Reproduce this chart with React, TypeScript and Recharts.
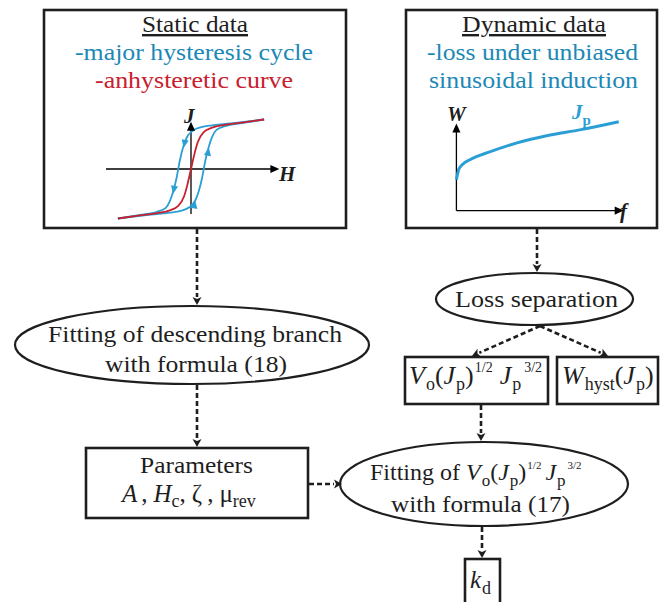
import { Line, LineChart, ReferenceDot, ReferenceLine, XAxis, YAxis } from "recharts"

// static data: major hysteresis loop + anhysteretic curve (H, J normalised)
const anhystH = [-0.86, -0.6, -0.4, -0.25, -0.15, -0.08, -0.04, 0, 0.04, 0.08, 0.15, 0.25, 0.4, 0.6, 0.86]
const anhystJ = [-1.1, -1.03, -0.98, -0.92, -0.82, -0.6, -0.33, 0, 0.33, 0.6, 0.82, 0.92, 0.98, 1.03, 1.1]
const descH = [-0.86, -0.6, -0.4, -0.3, -0.25, -0.21, -0.17, -0.15, -0.13, -0.09, -0.05, 0.02, 0.12, 0.25, 0.4, 0.6, 0.86]
const descJ = [-1.1, -1.02, -0.95, -0.87, -0.72, -0.5, -0.2, 0, 0.2, 0.5, 0.7, 0.85, 0.93, 0.97, 1.0, 1.04, 1.1]
const ascH = [-0.86, -0.6, -0.4, -0.25, -0.12, -0.02, 0.05, 0.09, 0.13, 0.15, 0.17, 0.21, 0.25, 0.3, 0.4, 0.6, 0.86]
const ascJ = [-1.1, -1.04, -1.0, -0.97, -0.93, -0.85, -0.7, -0.5, -0.2, 0, 0.2, 0.5, 0.72, 0.87, 0.95, 1.02, 1.1]

// dynamic data: loss W vs frequency f at peak induction Jp (normalised)
const freq = [0, 0.014, 0.035, 0.085, 0.207, 0.37, 0.55, 0.76, 0.99]
const loss = [0.35, 0.466, 0.52, 0.58, 0.67, 0.77, 0.85, 0.92, 1.01]

const anhyst = anhystH.map((h, i) => ({ h, j: anhystJ[i] }))
const descending = descH.map((h, i) => ({ h, j: descJ[i] }))
const ascending = ascH.map((h, i) => ({ h, j: ascJ[i] }))
const lossCurve = freq.map((f, i) => ({ f, w: loss[i] }))

const BLUE = "#2a9fd6"
const BLUE_TEXT = "#1c88b6"
const RED = "#c8202e"
const INK = "#1e1e1e"
const FONT = "Liberation Serif"

const tri = (angle: number, size = 8, color = "#000") => (p: any) => {
  const a = (angle * Math.PI) / 180
  const c = Math.cos(a)
  const s = Math.sin(a)
  const bx = p.cx - size * c
  const by = p.cy - size * s
  const w = size * 0.45
  return (
    <path
      d={`M${p.cx},${p.cy} L${bx + w * s},${by - w * c} L${bx - w * s},${by + w * c} Z`}
      fill={color}
    />
  )
}

function Arrow({ x1, y1, x2, y2 }: { x1: number; y1: number; x2: number; y2: number }) {
  const a = Math.atan2(y2 - y1, x2 - x1)
  const len = 8
  const bx = x2 - len * Math.cos(a)
  const by = y2 - len * Math.sin(a)
  const w = 4.5
  return (
    <g>
      <line x1={x1} y1={y1} x2={bx} y2={by} stroke={INK} strokeWidth={2.6} strokeDasharray="5 3" />
      <path
        d={`M${x2},${y2} L${bx + w * Math.sin(a)},${by - w * Math.cos(a)} L${bx + 2 * Math.cos(a)},${by + 2 * Math.sin(a)} L${bx - w * Math.sin(a)},${by + w * Math.cos(a)} Z`}
        fill={INK}
      />
    </g>
  )
}

// single line of text stretched to the width measured on the original
function Fit({ x, y, w, children, fill = INK, size = 24, underline = false }: any) {
  return (
    <text
      x={x}
      y={y}
      fontSize={size}
      fontFamily={FONT}
      fill={fill}
      textLength={w}
      lengthAdjust="spacingAndGlyphs"
      style={underline ? { textDecoration: "underline" } : undefined}
    >
      {children}
    </text>
  )
}

function HysteresisPlot() {
  return (
    <div style={{ position: "absolute", left: 89, top: 106 }}>
      <LineChart width={204} height={126} margin={{ top: 0, right: 0, bottom: 0, left: 0 }}>
        <XAxis type="number" dataKey="h" domain={[-1.2, 1.2]} hide allowDataOverflow />
        <YAxis type="number" dataKey="j" domain={[-1.4, 1.4]} hide allowDataOverflow />
        <ReferenceLine segment={[{ x: -1.0, y: 0 }, { x: 1.0, y: 0 }]} stroke="#000" strokeWidth={1.3} />
        <ReferenceLine segment={[{ x: 0, y: -1.0 }, { x: 0, y: 0.98 }]} stroke="#000" strokeWidth={1.3} />
        <ReferenceDot x={1.04} y={0} r={0} shape={tri(0, 9)} />
        <ReferenceDot x={0} y={1.05} r={0} shape={tri(-90, 9)} />
        <Line data={descending} dataKey="j" type="monotone" stroke={BLUE} strokeWidth={1.8} dot={false} isAnimationActive={false} />
        <Line data={ascending} dataKey="j" type="monotone" stroke={BLUE} strokeWidth={1.8} dot={false} isAnimationActive={false} />
        <Line data={anhyst} dataKey="j" type="monotone" stroke={RED} strokeWidth={1.8} dot={false} isAnimationActive={false} />
        <ReferenceDot x={-0.085} y={0.47} r={0} shape={tri(100, 8, BLUE)} />
        <ReferenceDot x={-0.21} y={-0.55} r={0} shape={tri(100, 8, BLUE)} />
        <ReferenceDot x={0.21} y={0.47} r={0} shape={tri(-80, 8, BLUE)} />
        <ReferenceDot x={0.05} y={-0.7} r={0} shape={tri(-80, 8, BLUE)} />
      </LineChart>
    </div>
  )
}

function LossPlot() {
  return (
    <div style={{ position: "absolute", left: 439.6, top: 105.4 }}>
      <LineChart width={196.8} height={114.4} margin={{ top: 0, right: 0, bottom: 0, left: 0 }}>
        <XAxis type="number" dataKey="f" domain={[-0.1, 1.1]} hide allowDataOverflow />
        <YAxis type="number" dataKey="w" domain={[-0.1, 1.2]} hide allowDataOverflow />
        <ReferenceLine segment={[{ x: 0, y: 0 }, { x: 0.98, y: 0 }]} stroke="#000" strokeWidth={1.3} />
        <ReferenceLine segment={[{ x: 0, y: 0 }, { x: 0, y: 0.92 }]} stroke="#000" strokeWidth={1.3} />
        <ReferenceDot x={1.02} y={0} r={0} shape={tri(0, 9)} />
        <ReferenceDot x={0} y={0.99} r={0} shape={tri(-90, 9)} />
        <Line data={lossCurve} dataKey="w" type="monotone" stroke={BLUE} strokeWidth={3} dot={false} isAnimationActive={false} />
      </LineChart>
    </div>
  )
}

function Diagram() {
  const t = { fontFamily: FONT, fill: INK }
  return (
    <svg width={670} height={602} style={{ position: "absolute", left: 0, top: 0 }}>
      <rect width={670} height={602} fill="#fff" />

      {/* input boxes */}
      <rect x={44} y={10} width={302} height={218} fill="none" stroke={INK} strokeWidth={2.6} />
      <rect x={406} y={10} width={251} height={218} fill="none" stroke={INK} strokeWidth={2.6} />

      <Fit x={142} y={32} w={106} underline>Static data</Fit>
      <Fit x={75} y={60} w={238} fill={BLUE_TEXT}>-major hysteresis cycle</Fit>
      <Fit x={95} y={88} w={198} fill={RED}>-anhysteretic curve</Fit>

      <Fit x={462} y={32} w={144} underline>Dynamic data</Fit>
      <Fit x={427} y={60} w={211} fill={BLUE_TEXT}>-loss under unbiased</Fit>
      <Fit x={429} y={88} w={209} fill={BLUE_TEXT}>sinusoidal induction</Fit>

      {/* mini plot axis labels */}
      <text x={184} y={123} fontSize={21} fontStyle="italic" fontWeight="bold" {...t}>J</text>
      <text x={279} y={181} fontSize={21} fontStyle="italic" fontWeight="bold" {...t}>H</text>
      <text x={447} y={121} fontSize={21} fontStyle="italic" fontWeight="bold" {...t}>W</text>
      <text x={620} y={218} fontSize={21} fontStyle="italic" fontWeight="bold" {...t}>f</text>
      <text x={572} y={119} fontSize={21} fontStyle="italic" fontWeight="bold" fontFamily={FONT} fill={BLUE}>
        J<tspan fontSize={15} fontStyle="normal" y={125}>p</tspan>
      </text>

      {/* left branch */}
      <Arrow x1={197} y1={229} x2={197} y2={305} />
      <ellipse cx={192} cy={345} rx={177} ry={39} fill="none" stroke={INK} strokeWidth={2.2} />
      <Fit x={48} y={342} w={294}>Fitting of descending branch</Fit>
      <Fit x={105} y={372} w={182}>with formula (18)</Fit>
      <Arrow x1={197} y1={385} x2={197} y2={447} />

      <rect x={86} y={448} width={222} height={70} fill="none" stroke={INK} strokeWidth={2.6} />
      <Fit x={140} y={473} w={113}>Parameters</Fit>
      <text x={122} y={502} fontSize={25} {...t}>
        <tspan fontStyle="italic">A</tspan>
        <tspan dx={4}>,</tspan>
        <tspan dx={6} fontStyle="italic">H</tspan>
        <tspan y={507} fontSize={18}>c</tspan>
        <tspan y={502}>,</tspan>
        <tspan dx={6}>ζ</tspan>
        <tspan dx={5}>,</tspan>
        <tspan dx={6}>μ</tspan>
        <tspan y={507} fontSize={18}>rev</tspan>
      </text>
      <Arrow x1={309} y1={484} x2={342} y2={484} />

      {/* right branch */}
      <Arrow x1={537} y1={229} x2={537} y2={272} />
      <ellipse cx={534.5} cy={299} rx={98.5} ry={26} fill="none" stroke={INK} strokeWidth={2.2} />
      <Fit x={455} y={307} w={163}>Loss separation</Fit>
      <Arrow x1={540} y1={326} x2={472} y2={356} />
      <Arrow x1={540} y1={326} x2={608} y2={356} />

      <rect x={405} y={357} width={143} height={47} fill="none" stroke={INK} strokeWidth={2.6} />
      <text x={409} y={384} fontSize={26} {...t}>
        <tspan fontStyle="italic">V</tspan>
        <tspan dx={1} y={390} fontSize={18}>o</tspan>
        <tspan y={384}>(</tspan>
        <tspan fontStyle="italic">J</tspan>
        <tspan dx={1} y={390} fontSize={18}>p</tspan>
        <tspan y={384}>)</tspan>
        <tspan dx={1} y={372} fontSize={14}>1/2</tspan>
        <tspan dx={7} y={384} fontStyle="italic">J</tspan>
        <tspan dx={1} y={390} fontSize={18}>p</tspan>
        <tspan dx={3} y={372} fontSize={14}>3/2</tspan>
      </text>

      <rect x={557} y={357} width={101} height={47} fill="none" stroke={INK} strokeWidth={2.6} />
      <text x={562} y={384} fontSize={26} {...t}>
        <tspan fontStyle="italic">W</tspan>
        <tspan dx={1} y={390} fontSize={18}>hyst</tspan>
        <tspan y={384}>(</tspan>
        <tspan fontStyle="italic">J</tspan>
        <tspan dx={1} y={390} fontSize={18}>p</tspan>
        <tspan y={384}>)</tspan>
      </text>

      <Arrow x1={481} y1={405} x2={481} y2={441} />
      <ellipse cx={484} cy={484} rx={144} ry={42} fill="none" stroke={INK} strokeWidth={2.2} />
      <text x={370} y={480} fontSize={24} {...t}>
        <tspan>Fitting of </tspan>
        <tspan fontStyle="italic">V</tspan>
        <tspan dx={1} y={486} fontSize={17}>o</tspan>
        <tspan y={480}>(</tspan>
        <tspan fontStyle="italic">J</tspan>
        <tspan dx={1} y={486} fontSize={17}>p</tspan>
        <tspan y={480}>)</tspan>
        <tspan dx={1} y={469} fontSize={11}>1/2</tspan>
        <tspan dx={4} y={480} fontStyle="italic">J</tspan>
        <tspan dx={1} y={486} fontSize={17}>p</tspan>
        <tspan dx={2} y={469} fontSize={11}>3/2</tspan>
      </text>
      <Fit x={391} y={512} w={179}>with formula (17)</Fit>

      <Arrow x1={482} y1={527} x2={482} y2={558} />
      <rect x={465} y={559} width={35} height={50} fill="none" stroke={INK} strokeWidth={2.6} />
      <text x={470} y={588} fontSize={25} {...t}>
        <tspan fontStyle="italic">k</tspan>
        <tspan dx={1} y={594} fontSize={18}>d</tspan>
      </text>
    </svg>
  )
}

export default function App() {
  return (
    <div style={{ position: "relative", width: 670, height: 602, overflow: "hidden", background: "#fff" }}>
      <style>{"body{margin:0}"}</style>
      <Diagram />
      <HysteresisPlot />
      <LossPlot />
    </div>
  )
}
